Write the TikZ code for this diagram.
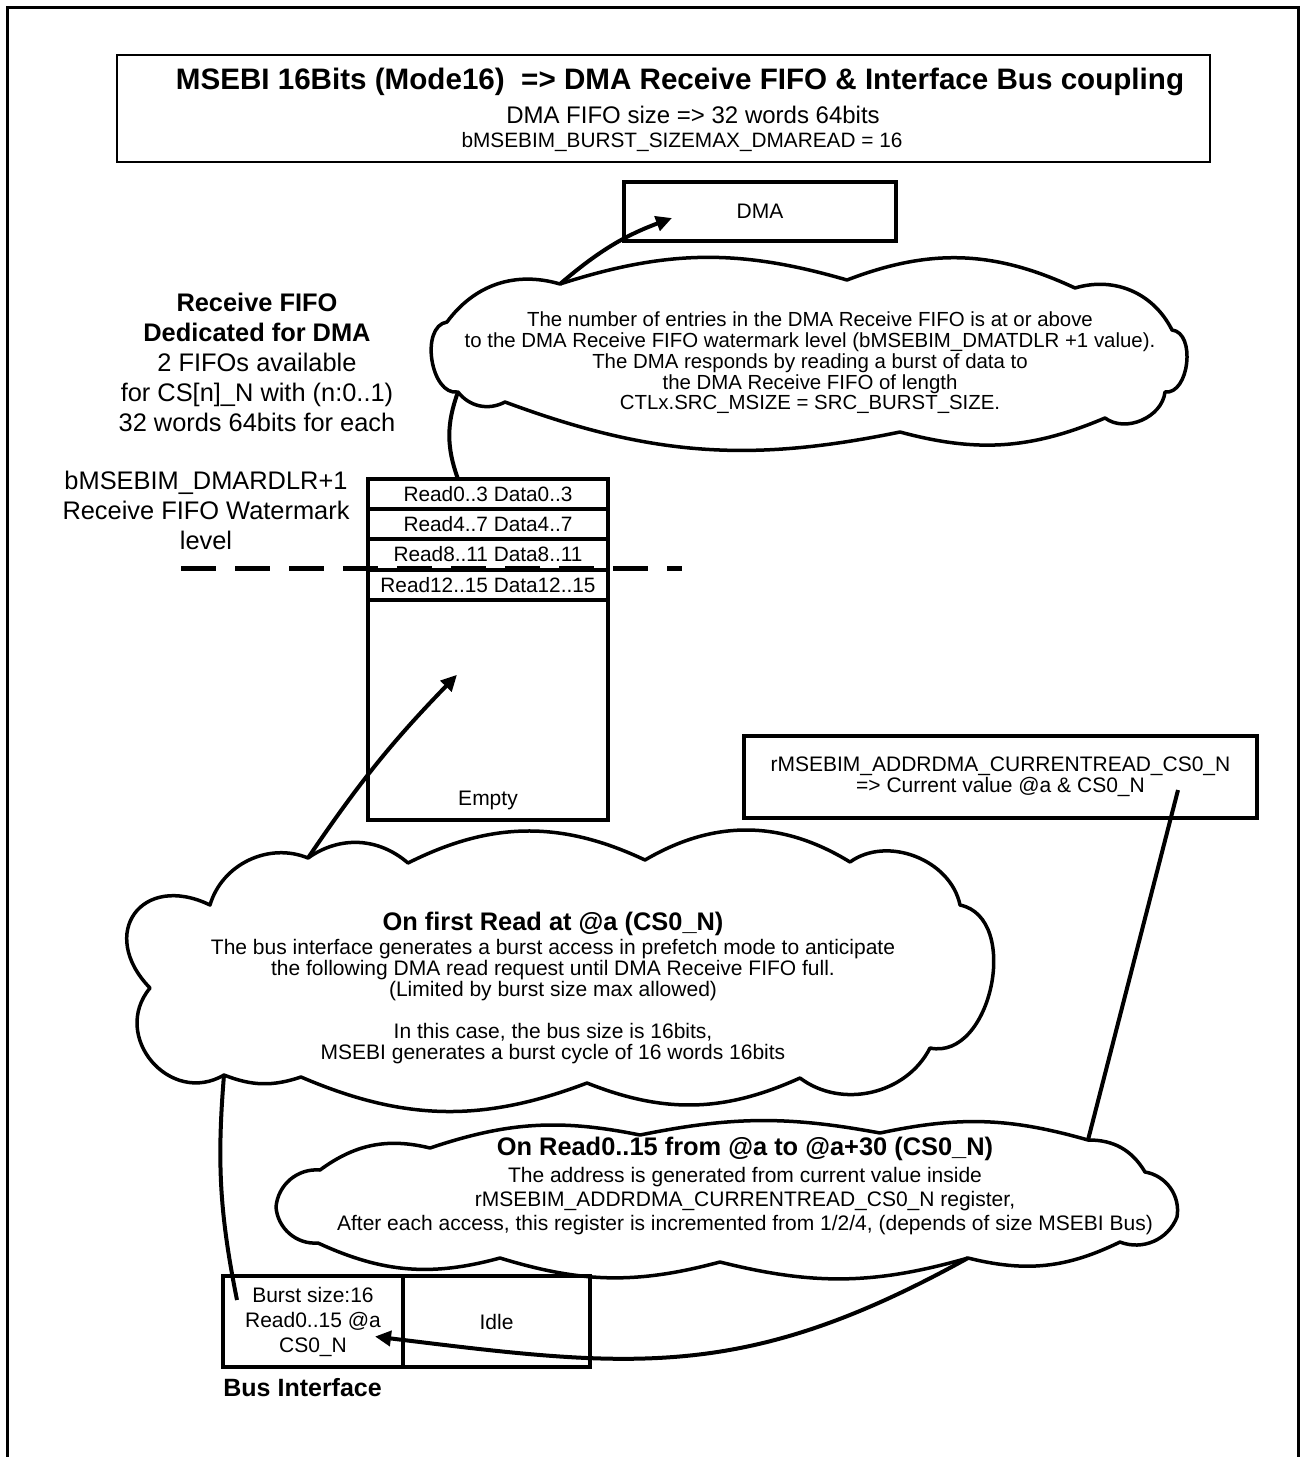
\documentclass[tikz,border=0pt]{standalone}
\usepackage{fontspec}
\setmainfont{Liberation Sans}
\usepackage{tikz}
\usetikzlibrary{arrows.meta,positioning,calc}

\tikzset{
  outerframe/.style={line width=1.5pt},
  titlebox/.style={draw,line width=0.8pt,inner sep=0pt,minimum width=546.5pt,minimum height=53.5pt},
  blk/.style={draw,line width=2pt,inner sep=0pt,outer sep=0pt,align=center,font=\fontsize{10.5}{12.5}\selectfont},
  slot/.style={blk,minimum width=120pt,minimum height=15.1pt,font=\fontsize{10.4}{12}\selectfont},
  puff/.style={line width=1.75pt,line join=round,line cap=round},
  txt/.style={align=center,inner sep=0pt,font=\fontsize{10.5}{10.5}\selectfont},
  side/.style={align=center,inner sep=0pt,font=\fontsize{12.7}{15}\selectfont},
  wire/.style={line width=2pt},
  arr/.style={wire,-{Triangle[length=8pt,width=7.5pt]}},
  watermark/.style={line width=2.5pt,dash pattern=on 17.5pt off 9.5pt},
}

\begin{document}
\begin{tikzpicture}[x=0.5pt,y=-0.5pt]
  \useasboundingbox (0,0) rectangle (1301,1457);
  \draw[outerframe] (7,1457) -- (7,7) -- (1298,7) -- (1298,1457);

  % header
  \node[titlebox] (title) at (663.5,108.5) {};
  \node[inner sep=0pt,font=\fontsize{14.8}{16}\selectfont\bfseries] (titleA) at (680,82)
    {MSEBI 16Bits (Mode16)\ \ => DMA Receive FIFO \& Interface Bus coupling};
  \node[inner sep=0pt,font=\fontsize{12}{13}\selectfont] (titleB) at (693,115) {DMA FIFO size => 32 words 64bits};
  \node[inner sep=0pt,font=\fontsize{10.4}{11}\selectfont] (titleC) at (682,142) {bMSEBIM\_BURST\_SIZEMAX\_DMAREAD = 16};

  % DMA and the watermark cloud
  \node[blk,minimum width=136pt,minimum height=29.5pt] (dma) at (760,211.5) {DMA};
  \draw[puff] (1075,288) to[bend right=23] (847,280) to[bend right=17] (560,284) coordinate (wmdma)
    to[bend right=35] (447,322) to[bend right=90] (458,392) coordinate (wmfifo)
    to[bend right=40] (505,402) to[bend right=16] (900,432) to[bend right=19] (1105,418)
    to[bend right=60] (1165,392) to[bend right=90] (1172,330) to[bend right=40] (1075,288) -- cycle;
  \node[txt,font=\fontsize{10.2}{10.4}\selectfont] (wmtxt) at (810,363) {The number of entries in the DMA Receive FIFO is at or above\\
    to the DMA Receive FIFO watermark level (bMSEBIM\_DMATDLR +1 value).\\
    The DMA responds by reading a burst of data to\\
    the DMA Receive FIFO of length\\
    CTLx.SRC\_MSIZE = SRC\_BURST\_SIZE.};

  % receive FIFO
  \node[side] (fifoinfo) at (257,362.5) {\textbf{Receive FIFO}\\ \textbf{Dedicated for DMA}\\ 2 FIFOs available\\
    for CS[n]\_N with (n:0..1)\\ 32 words 64bits for each};
  \node[side] (wmlevel) at (206,510) {bMSEBIM\_DMARDLR+1\\ Receive FIFO Watermark\\ level};
  \node[slot] (slot0) at (488,494.1) {Read0..3 Data0..3};
  \node[slot,below=0pt of slot0] (slot1) {Read4..7 Data4..7};
  \node[slot,below=0pt of slot1] (slot2) {Read8..11 Data8..11};
  \node[slot,below=0pt of slot2] (slot3) {Read12..15 Data12..15};
  \node[blk,below=0pt of slot3,minimum width=120pt,minimum height=110pt] (fifoempty) {};
  \node[inner sep=0pt,font=\fontsize{10.5}{12}\selectfont,above=5pt of fifoempty.south] (emptylbl) {Empty};
  \draw[watermark] (181,568) -- (682,568);

  % address register
  \node[blk,minimum width=256.5pt,minimum height=41pt,font=\fontsize{10.5}{10.5}\selectfont] (addrreg) at (1000.5,777)
    {rMSEBIM\_ADDRDMA\_CURRENTREAD\_CS0\_N\\ => Current value @a \& CS0\_N};

  % prefetch cloud
  \draw[puff] (850,862) to[bend right=31] (645,860) to[bend right=26] (408,863) to[bend right=38] (308,858) coordinate (prefup)
    to[bend right=48] (210,905) to[bend right=80,looseness=1.9] (150,988) to[bend right=80,looseness=1.4] (224,1075) coordinate (prefdown)
    to[bend right=20] (301,1077) to[bend right=22] (587,1083) to[bend right=23] (800,1078) to[bend right=50] (930,1048)
    to[bend right=90,looseness=1.1] (960,905) to[bend right=57] (850,862) -- cycle;
  \node[txt] (preftxt) at (553,988) {{\fontsize{12.7}{14}\selectfont\bfseries On first Read at @a (CS0\_N)}\\[1.5pt]
    The bus interface generates a burst access in prefetch mode to anticipate\\
    the following DMA read request until DMA Receive FIFO full.\\
    (Limited by burst size max allowed)\\[10.5pt]
    In this case, the bus size is 16bits,\\
    MSEBI generates a burst cycle of 16 words 16bits};

  % address cloud
  \draw[puff] (1088,1140) coordinate (addrup) to[bend right=14] (880,1133) to[bend right=11] (640,1135) to[bend right=15] (430,1148)
    to[bend right=25] (320,1170) to[bend right=45] (276,1207) to[bend right=45] (318,1243) to[bend right=20] (500,1258)
    to[bend right=16] (720,1262) to[bend right=15] (968,1258) coordinate (addrdown) to[bend right=20] (1120,1242)
    to[bend right=45] (1177,1217) to[bend right=45] (1145,1172) to[bend right=30] (1088,1140) -- cycle;
  \node[txt,font=\fontsize{10.5}{12}\selectfont] (addrtxt) at (745,1186) {{\fontsize{12.7}{14}\selectfont\bfseries On Read0..15 from @a to @a+30 (CS0\_N)}\\[1.5pt]
    The address is generated from current value inside\\
    rMSEBIM\_ADDRDMA\_CURRENTREAD\_CS0\_N register,\\
    After each access, this register is incremented from 1/2/4, (depends of size MSEBI Bus)};

  % bus interface
  \node[blk,minimum width=90pt,minimum height=45.5pt] (burst) at (313,1321.5) {Burst size:16\\ Read0..15 @a\\ CS0\_N};
  \node[blk,right=0pt of burst,minimum width=93.5pt,minimum height=45.5pt] (idle) {Idle};
  \node[inner sep=0pt,anchor=west,font=\fontsize{12.5}{14}\selectfont\bfseries] (busif) at (223,1388) {Bus Interface};

  % connectors
  \coordinate (dmatip) at ($(dma.south west)+(24pt,11.5pt)$);
  \coordinate (fifotip) at ($(fifoempty.north west)+(44.5pt,-37.5pt)$);
  \coordinate (burstin) at ($(burst.north west)+(7pt,-12pt)$);
  \coordinate (regout) at ($(addrreg.south east)+(-39.5pt,14pt)$);
  \coordinate (bursttip) at ($(burst.east)+(-14pt,-7.5pt)$);
  \draw[arr] (wmdma) to[bend left=10] (dmatip);
  \draw[wire] ($(slot0.north)+(-15pt,0)$) to[bend left=20] (wmfifo);
  \draw[arr] (prefup) to[bend left=5] (fifotip);
  \draw[wire] (prefdown) to[bend right=8] (burstin);
  \draw[wire] (regout) -- (addrup);
  \draw[arr] (addrdown) to[out=-151,in=-7,looseness=1.1] (bursttip);
\end{tikzpicture}
\end{document}
